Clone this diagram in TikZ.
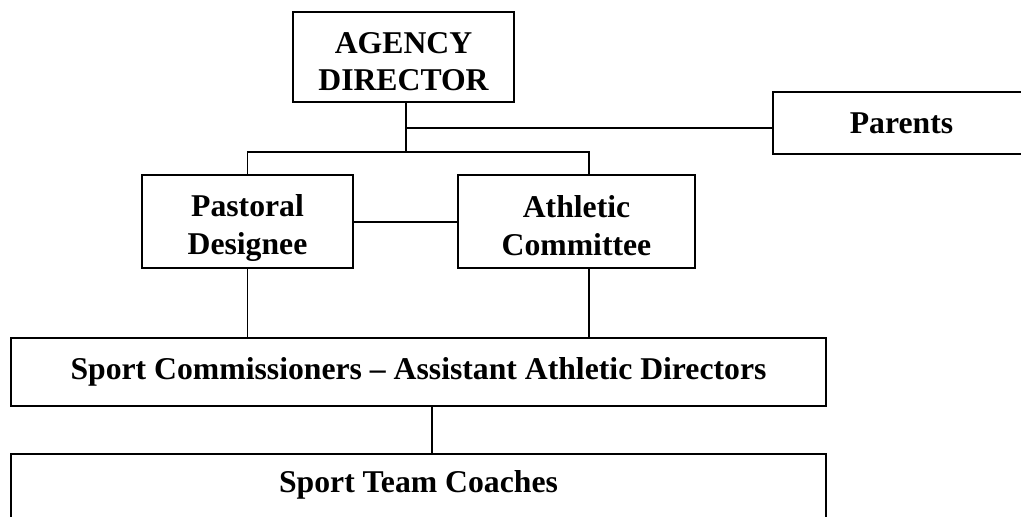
\documentclass[tikz,border=0pt]{standalone}
\usepackage{fontspec}
\setmainfont{Liberation Serif}
\begin{document}
\begin{tikzpicture}[x=1pt,y=-1pt,
  box/.style={draw=black,line width=1.8pt,inner sep=0pt,align=center,
    font=\fontsize{31.7}{37.5}\selectfont\bfseries},
  txt/.style={inner sep=0pt,align=center,font=\fontsize{31.7}{37.5}\selectfont\bfseries},
  link/.style={draw=black,line width=1.8pt}]
\fill[white] (0,0) rectangle (1021,517);
\useasboundingbox (0,0) rectangle (1021,517);
\clip (0,0) rectangle (1021,517);
% boxes
\node[box,minimum width=221pt,minimum height=90pt] (agency) at (403.5,57) {};
\node[txt,anchor=north] (agencytxt) at (403.5,32) {AGENCY\\DIRECTOR};
\node[box,minimum width=257pt,minimum height=62pt] (parents) at (901.5,123) {Parents};
\node[box,minimum width=211pt,minimum height=93pt] (pastoral) at (247.5,221.5) {};
\node[txt,anchor=north] (pastoraltxt) at (247.5,194.5) {Pastoral\\Designee};
\node[box,minimum width=237pt,minimum height=93pt] (athletic) at (576.5,221.5) {};
\node[txt,anchor=north] (athletictxt) at (576.5,195.5) {Athletic\\Committee};
\node[box,minimum width=815pt,minimum height=68pt] (sc) at (418.5,372) {Sport Commissioners – Assistant Athletic Directors};
\node[box,minimum width=815pt,minimum height=100pt,anchor=north] (coaches) at (418.5,453) {};
\node[txt] (coachestxt) at (418.5,484.7) {Sport Team Coaches};
% junctions
\coordinate (jp) at (406,128);
\coordinate (jb) at (406,152);
\coordinate (ax) at (589,300);
\coordinate (sx) at (432,430);
\coordinate (mid) at (400,222);
% connectors
\draw[link] (agency.south -| jp) -- (jb);
\draw[link] (jp) -- (jp -| parents.west);
\draw[link] (pastoral.north) |- (jb) -| (athletic.north -| ax);
\draw[link] (pastoral.east |- mid) -- (athletic.west |- mid);
\draw[link] (pastoral.south) -- (pastoral.south |- sc.north);
\draw[link] (athletic.south -| ax) -- (sc.north -| ax);
\draw[link] (sc.south -| sx) -- (coaches.north -| sx);
\end{tikzpicture}
\end{document}
